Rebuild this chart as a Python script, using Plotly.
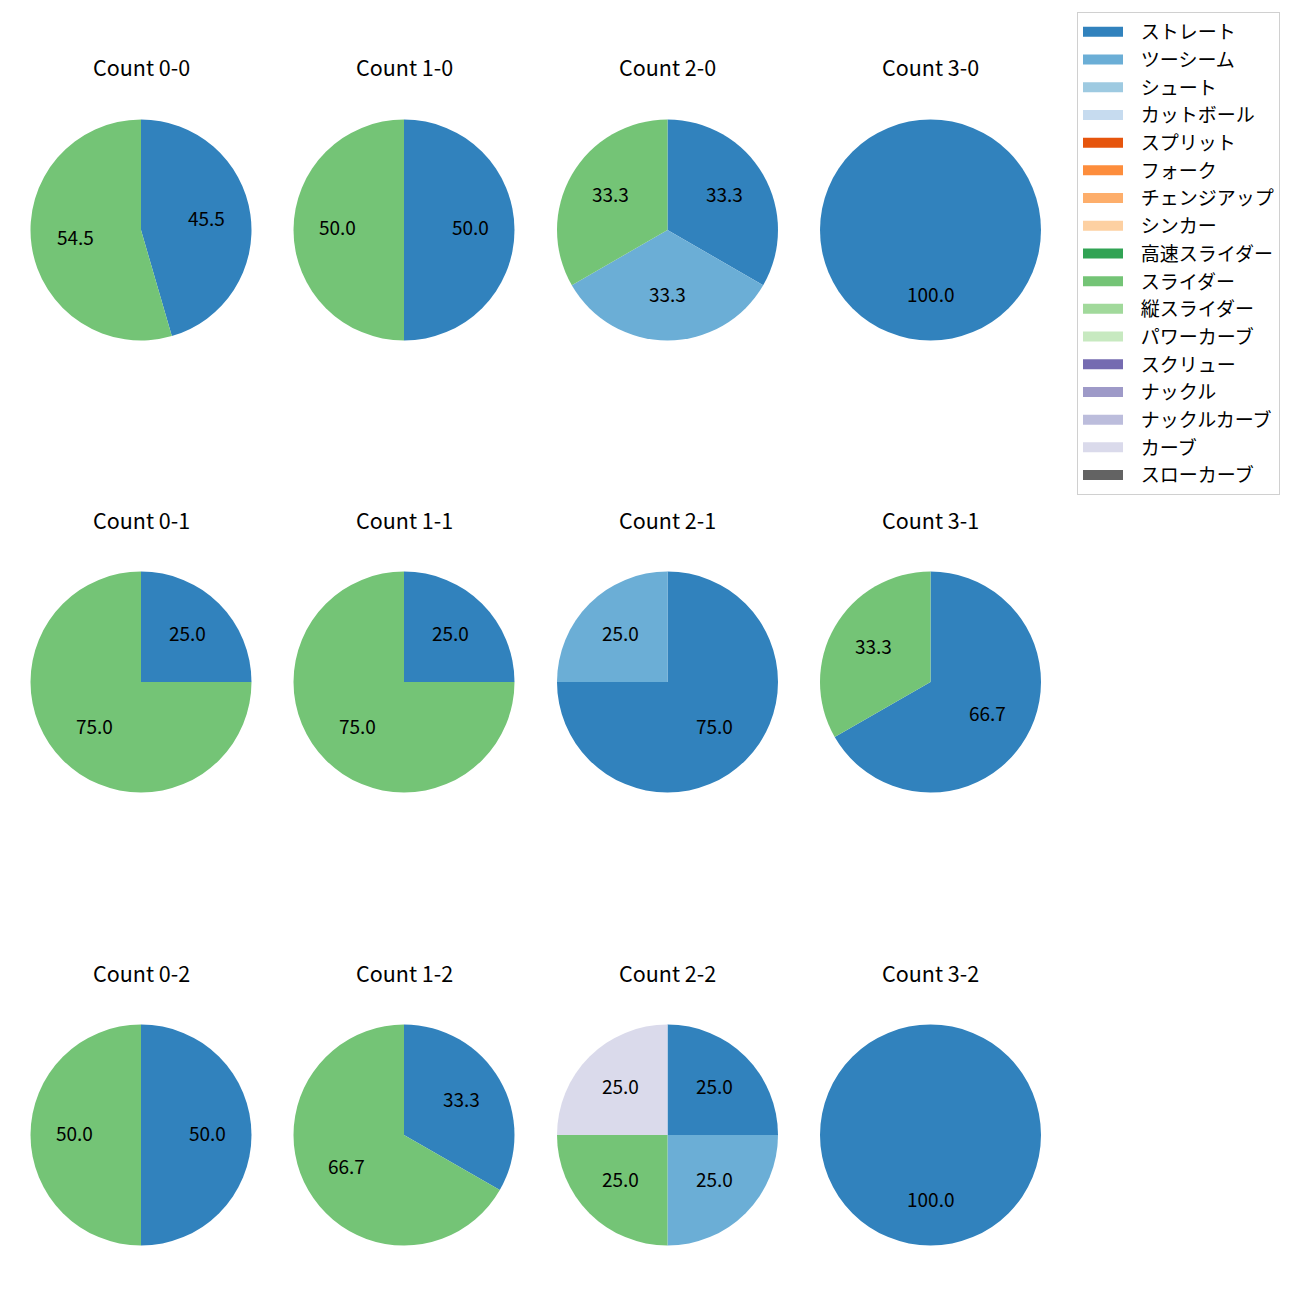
import math
import plotly.graph_objects as go

# ---- data ----
pitch_types = ["ストレート", "ツーシーム", "シュート", "カットボール", "スプリット", "フォーク",
               "チェンジアップ", "シンカー", "高速スライダー", "スライダー", "縦スライダー",
               "パワーカーブ", "スクリュー", "ナックル", "ナックルカーブ", "カーブ", "スローカーブ"]
pitch_colors = ["#3182bd", "#6baed6", "#9ecae1", "#c6dbef", "#e6550d", "#fd8d3c",
                "#fdae6b", "#fdd0a2", "#31a354", "#74c476", "#a1d99b", "#c7e9c0",
                "#756bb1", "#9e9ac8", "#bcbddc", "#dadaeb", "#636363"]

counts = ["0-0", "1-0", "2-0", "3-0",
          "0-1", "1-1", "2-1", "3-1",
          "0-2", "1-2", "2-2", "3-2"]

labels_0_0 = ["ストレート", "スライダー"];                 values_0_0 = [45.5, 54.5]
labels_1_0 = ["ストレート", "スライダー"];                 values_1_0 = [50.0, 50.0]
labels_2_0 = ["ストレート", "ツーシーム", "スライダー"];   values_2_0 = [33.3, 33.3, 33.3]
labels_3_0 = ["ストレート"];                               values_3_0 = [100.0]
labels_0_1 = ["ストレート", "スライダー"];                 values_0_1 = [25.0, 75.0]
labels_1_1 = ["ストレート", "スライダー"];                 values_1_1 = [25.0, 75.0]
labels_2_1 = ["ストレート", "ツーシーム"];                 values_2_1 = [75.0, 25.0]
labels_3_1 = ["ストレート", "スライダー"];                 values_3_1 = [66.7, 33.3]
labels_0_2 = ["ストレート", "スライダー"];                 values_0_2 = [50.0, 50.0]
labels_1_2 = ["ストレート", "スライダー"];                 values_1_2 = [33.3, 66.7]
labels_2_2 = ["ストレート", "ツーシーム", "スライダー", "カーブ"]; values_2_2 = [25.0, 25.0, 25.0, 25.0]
labels_3_2 = ["ストレート"];                               values_3_2 = [100.0]

pie_data = [(labels_0_0, values_0_0), (labels_1_0, values_1_0), (labels_2_0, values_2_0), (labels_3_0, values_3_0),
            (labels_0_1, values_0_1), (labels_1_1, values_1_1), (labels_2_1, values_2_1), (labels_3_1, values_3_1),
            (labels_0_2, values_0_2), (labels_1_2, values_1_2), (labels_2_2, values_2_2), (labels_3_2, values_3_2)]

# ---- layout geometry (pixels) ----
W = H = 1300
OFF = -8  # compensate page body margin
col_cx = [141 + OFF, 404 + OFF, 667.5 + OFF, 930.5 + OFF]
row_cy = [230 + OFF, 682 + OFF, 1135 + OFF]
R = 110.5
FONT = "Noto Sans CJK JP"
color_of = dict(zip(pitch_types, pitch_colors))

fig = go.Figure()
annotations = []

for i, (count, (labs, vals)) in enumerate(zip(counts, pie_data)):
    r, c = divmod(i, 4)
    cx, cy = col_cx[c], row_cy[r]
    fig.add_trace(go.Pie(
        labels=labs, values=vals, sort=False, direction="clockwise", rotation=0,
        marker=dict(colors=[color_of[l] for l in labs], line=dict(width=0)),
        textinfo="none", hoverinfo="label+percent", showlegend=False,
        domain=dict(x=[(cx - R) / W, (cx + R) / W], y=[1 - (cy + R) / H, 1 - (cy - R) / H]),
    ))
    # title
    annotations.append(dict(text=f"Count {count}", x=cx / W, y=1 - (cy - 163) / H,
                            xref="paper", yref="paper", showarrow=False,
                            xanchor="center", yanchor="middle",
                            font=dict(family=FONT, size=21.5, color="black")))
    # percentage labels at 0.6 radius
    total = sum(vals)
    theta = 90.0
    for v in vals:
        span = v / total * 360.0
        mid = math.radians(theta - span / 2)
        theta -= span
        px = cx + 0.6 * R * math.cos(mid)
        py = cy - 0.6 * R * math.sin(mid) - 3
        annotations.append(dict(text=f"{v:.1f}", x=px / W, y=1 - py / H,
                                xref="paper", yref="paper", showarrow=False,
                                xanchor="center", yanchor="middle",
                                font=dict(family=FONT, size=19, color="black")))

# legend entries
for name, col in zip(pitch_types, pitch_colors):
    fig.add_trace(go.Scatter(x=[None], y=[None], mode="lines", name="\u00a0\u00a0\u00a0" + name,
                             line=dict(color=col, width=14), legendgroup=name,
                             hoverinfo="skip"))

fig.update_layout(
    width=W, height=H, margin=dict(l=0, r=0, t=0, b=0),
    paper_bgcolor="white", plot_bgcolor="white",
    xaxis=dict(visible=False), yaxis=dict(visible=False),
    annotations=annotations,
    legend=dict(x=(1077 + OFF) / W, y=1 - (12 + OFF) / H, xanchor="left", yanchor="top",
                bordercolor="#d0d0d0", borderwidth=1, bgcolor="white",
                font=dict(family=FONT, size=19, color="black"),
                tracegroupgap=0, itemwidth=40),
)

fig.write_html("out.html")
